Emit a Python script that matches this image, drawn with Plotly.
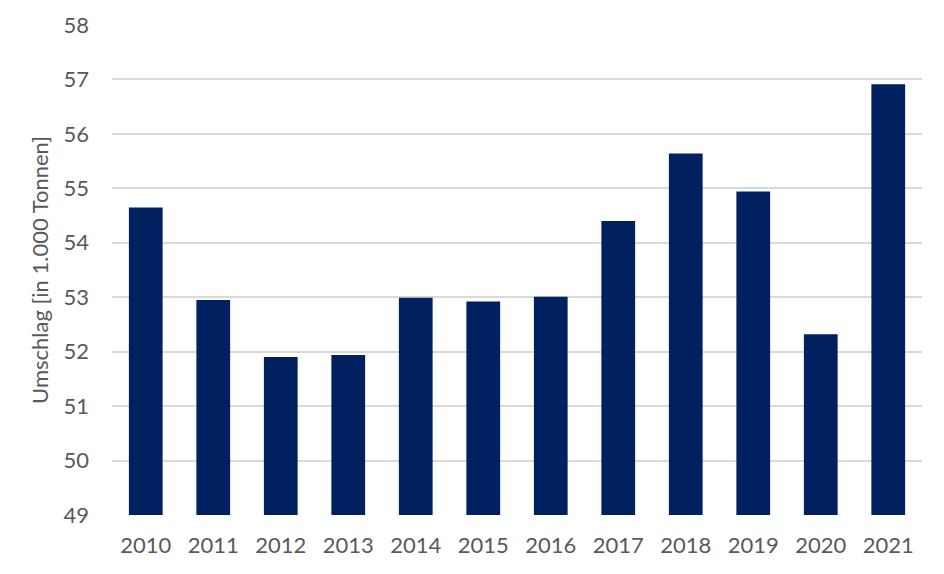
import plotly.graph_objects as go

# Umschlag per year (in 1.000 Tonnen)
years = ["2010", "2011", "2012", "2013", "2014", "2015",
         "2016", "2017", "2018", "2019", "2020", "2021"]
umschlag = [54.65, 52.95, 51.90, 51.94, 52.99, 52.92,
            53.01, 54.40, 55.64, 54.94, 52.32, 56.91]

y_ticks = list(range(49, 59))

fig = go.Figure()
fig.add_trace(go.Bar(
    x=years,
    y=umschlag,
    marker=dict(color="#002060", line=dict(width=0)),
    hoverinfo="x+y",
))

# page body has an 8px margin, so the figure is a bit smaller than the window
fig.update_layout(
    width=928,
    height=558,
    margin=dict(l=104, r=14, t=17, b=51, autoexpand=False),
    paper_bgcolor="white",
    plot_bgcolor="white",
    bargap=0.5,
    showlegend=False,
    font=dict(family="Lato, 'Open Sans', sans-serif", color="#595959"),
    xaxis=dict(
        showgrid=False,
        showline=False,
        ticks="",
        ticklabelstandoff=15,
        tickfont=dict(size=22),
    ),
    yaxis=dict(
        range=[49, 58],
        tickvals=y_ticks,
        showgrid=True,
        gridcolor="#d9d9d9",
        gridwidth=1.5,
        zeroline=False,
        showline=False,
        ticks="",
        ticklabelstandoff=22,
        tickfont=dict(size=22),
        title=dict(text="Umschlag [in 1.000 Tonnen]", font=dict(size=22), standoff=8),
    ),
)

fig.write_html("out.html")
